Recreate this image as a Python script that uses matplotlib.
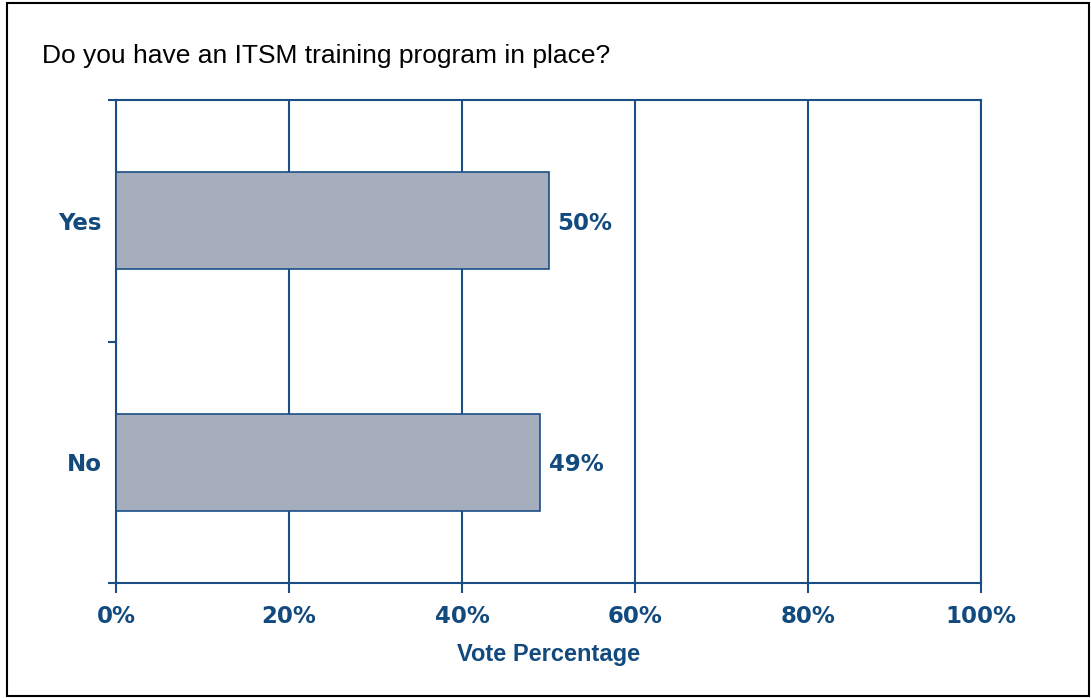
import matplotlib
matplotlib.use("Agg")
import matplotlib.pyplot as plt
from matplotlib.patches import Rectangle
from matplotlib.ticker import FixedLocator

categories = ["Yes", "No"]
values = [50, 49]
value_labels = ["50%", "49%"]
xticks = [0, 20, 40, 60, 80, 100]
xtick_labels = ["0%", "20%", "40%", "60%", "80%", "100%"]
title = "Do you have an ITSM training program in place?"
xlabel = "Vote Percentage"

blue = "#1B4E84"
text_blue = "#124A7E"
bar_color = "#A6AEBE"

fig = plt.figure(figsize=(10.91, 6.98), dpi=100)
ax = fig.add_axes([116/1091, 115/698, 865/1091, 483/698])

ypos = [1.5, 0.5]
ax.barh(ypos, values, height=0.4, color=bar_color, edgecolor=blue, linewidth=1.2, zorder=3)
ax.set_xlim(0, 100)
ax.set_ylim(0, 2)

for y, v, lab in zip(ypos, values, value_labels):
    ax.text(v + 1.0, y, lab, va="center_baseline", ha="left", fontsize=16.5, fontweight="bold",
            color=text_blue, family="DejaVu Sans")

ax.set_xticks(xticks)
ax.set_xticklabels(xtick_labels, fontsize=16.5, fontweight="bold", color=text_blue, family="DejaVu Sans")
ax.tick_params(axis="x", length=7, width=1.5, color=blue, pad=9)
ax.set_yticks(ypos)
ax.set_yticklabels(categories, fontsize=16.5, fontweight="bold", color=text_blue, family="DejaVu Sans")
ax.tick_params(axis="y", which="major", length=0, pad=10)
ax.yaxis.set_minor_locator(FixedLocator([0, 1, 2]))
ax.tick_params(axis="y", which="minor", length=6, width=1.5, color=blue)

ax.xaxis.grid(True, color=blue, linewidth=1.5, zorder=1)
ax.set_axisbelow(True)
for s in ax.spines.values():
    s.set_color(blue)
    s.set_linewidth(1.5)

ax.set_xlabel(xlabel, fontsize=17, fontweight="bold", color=text_blue, family="Liberation Sans", labelpad=11)

fig.text(42/1091, 1 - 63/698, title, fontsize=19, family="Liberation Sans", color="black",
         ha="left", va="baseline")

fig.patches.append(Rectangle((7/1091, 2/698), 1082/1091, 693/698, transform=fig.transFigure,
                             fill=False, edgecolor="black", linewidth=1.5))

fig.savefig("out.png", dpi=100)
